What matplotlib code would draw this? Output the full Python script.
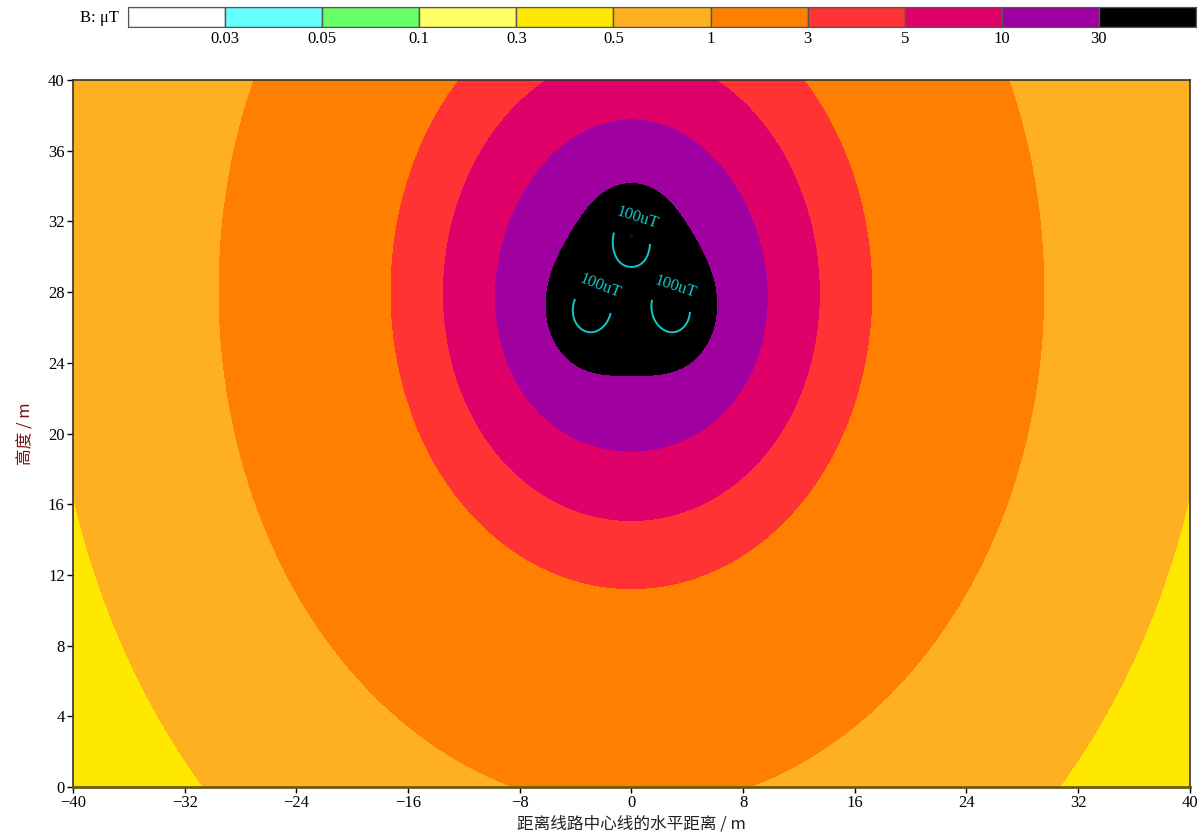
import numpy as np
import matplotlib
matplotlib.use("Agg")
import matplotlib.pyplot as plt

# conductor layout (m) and load current
cond_x = [0.0, -3.1, 3.1]
cond_y = [31.2, 26.9, 26.9]
phase_deg = [0.0, -120.0, 120.0]
current_A = 628.0

# field levels (uT) and fill colours
levels = [0.0, 0.03, 0.05, 0.1, 0.3, 0.5, 1, 3, 5, 10, 30, 1e6]
level_labels = ["0.03", "0.05", "0.1", "0.3", "0.5", "1", "3", "5", "10", "30"]
fill_colors = ["#FFFFFF", "#66FFFF", "#66FF66", "#FFFF66", "#FFE800", "#FFB020",
               "#FF8000", "#FF3333", "#E0006A", "#A000A0", "#000000"]
line_level = [100]
label_spots = [(0.5, 32.4), (-2.3, 28.2), (3.2, 28.4)]

x_ticks = list(range(-40, 41, 8))
y_ticks = list(range(0, 41, 4))

serif = ["Liberation Serif", "DejaVu Serif"]
cjk = ["Noto Sans CJK SC", "DejaVu Sans"]

# ---- field on a grid ----
gx = np.linspace(-40, 40, 1201)
gy = np.linspace(0, 40, 801)
X, Y = np.meshgrid(gx, gy)
Bx = np.zeros_like(X, dtype=complex)
By = np.zeros_like(X, dtype=complex)
for xc, yc, ph in zip(cond_x, cond_y, phase_deg):
    Ic = current_A * np.exp(1j * np.deg2rad(ph))
    dx = X - xc
    dy = Y - yc
    r2 = dx**2 + dy**2 + 1e-9
    Bx += 2e-7 * Ic * (-dy) / r2
    By += 2e-7 * Ic * dx / r2
B = np.sqrt(np.abs(Bx)**2 + np.abs(By)**2) * 1e6

fig = plt.figure(figsize=(12.03, 8.34), dpi=100)
ax = fig.add_axes([0.0607, 0.0564, 0.9283, 0.8476])
ax.contourf(X, Y, B, levels=levels, colors=fill_colors)
cs = ax.contour(X, Y, B, levels=line_level, colors="#10C8C8", linewidths=1.4)
ax.clabel(cs, fmt={100: "100uT"}, inline=True, fontsize=12, manual=label_spots)
for t in cs.labelTexts:
    t.set_family(serif)
ax.set_xlim(-40, 40)
ax.set_ylim(0, 40)
ax.set_xticks(x_ticks)
ax.set_yticks(y_ticks)
ax.tick_params(direction="out", length=4, width=1, labelsize=12, pad=2)
for lbl in ax.get_xticklabels() + ax.get_yticklabels():
    lbl.set_family(serif)
for sp in ax.spines.values():
    sp.set_color("#333333")
    sp.set_linewidth(1.2)
ax.spines["bottom"].set_color("#6B5A10")
ax.spines["bottom"].set_linewidth(2)
ax.set_xlabel("距离线路中心线的水平距离 / m", family=cjk, fontsize=12,
              color="#222222", labelpad=3)
ax.set_ylabel("高度 / m", family=cjk, fontsize=12, color="#7A1010", labelpad=10)

# ---- legend strip ----
cax = fig.add_axes([0.1064, 0.9676, 0.8878, 0.024])
n = len(fill_colors)
cax.bar(range(n), [1] * n, width=1.0, align="edge", color=fill_colors,
        edgecolor="#555555", linewidth=1)
cax.set_xlim(0, n)
cax.set_ylim(0, 1)
cax.set_yticks([])
cax.set_xticks(range(1, n))
cax.set_xticklabels(level_labels, family=serif, fontsize=12)
cax.tick_params(axis="x", length=0, pad=3)
for sp in cax.spines.values():
    sp.set_color("#555555")
fig.text(0.0985, 0.9788, "B: μT", family=serif, fontsize=12,
         ha="right", va="center")

fig.savefig("out.png", dpi=100)
